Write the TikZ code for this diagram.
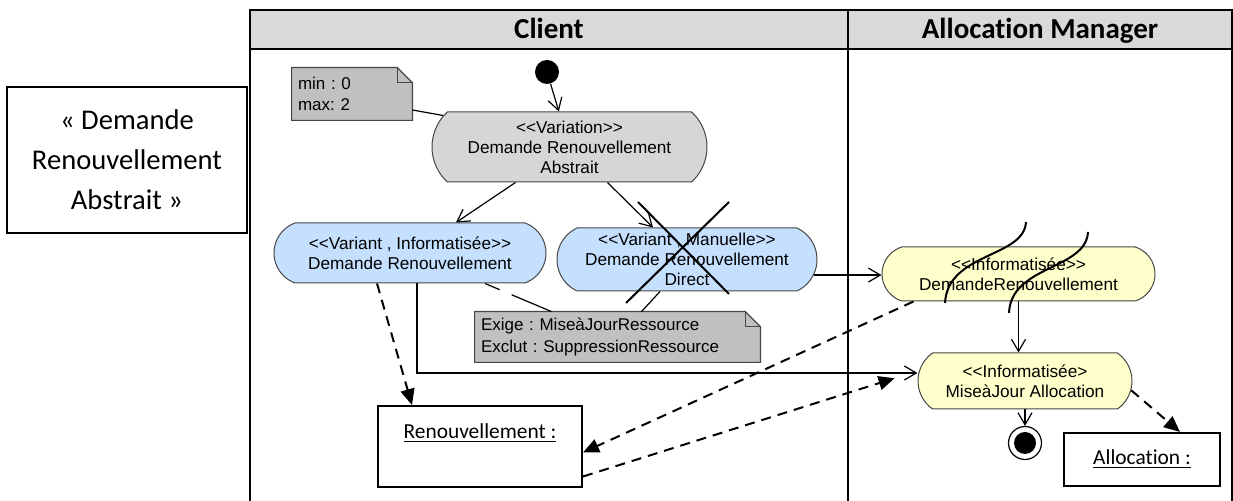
\documentclass[tikz,border=0pt]{standalone}
\usepackage{fontspec}
\newfontfamily\umlfont{Liberation Sans}
\newfontfamily\calfont{Carlito}[Ligatures={NoCommon}]
\usetikzlibrary{arrows.meta,positioning,shapes.misc,backgrounds}
\definecolor{lanegray}{RGB}{217,217,217}
\definecolor{vargray}{RGB}{214,214,214}
\definecolor{notegray}{RGB}{192,192,192}
\definecolor{variantblue}{RGB}{197,224,255}
\definecolor{infoyellow}{RGB}{255,255,204}
\definecolor{actborder}{RGB}{70,70,70}
\newcommand{\stOpen}{<\kern0pt<}
\newcommand{\stClose}{>\kern0pt>}
\frenchspacing

\begin{document}
\begin{tikzpicture}[x=0.5pt, y=-0.5pt,
    lanehead/.style={inner sep=0pt, anchor=base, font=\calfont\bfseries\fontsize{14.5}{17}\selectfont},
    action/.style={rounded rectangle, draw=actborder, line width=0.5pt, align=center, inner sep=0pt, font=\umlfont\fontsize{8.6}{10}\selectfont},
    umlnote/.style={align=left, inner xsep=3pt, inner ysep=0pt, font=\umlfont\fontsize{8.5}{10.5}\selectfont},
    objbox/.style={draw, line width=1pt, inner sep=0pt, font=\calfont\fontsize{10.7}{13}\selectfont},
    flow/.style={line width=0.6pt, -{Straight Barb[length=6pt,width=7pt]}},
    objflow/.style={line width=1pt, dash pattern=on 5pt off 3.5pt, -{Triangle[length=8pt,width=7pt]}},
    notelink/.style={line width=0.6pt},
    strike/.style={line width=1pt},
  ]
    \useasboundingbox (0,0) rectangle (1233,501);

    % swimlanes
    \fill[lanegray] (250,10) rectangle (1232,49);
    \draw[line width=1.2pt] (250,501) -- (250,10) -- (1232,10) -- (1232,501);
    \draw[line width=1.2pt] (250,49) -- (1232,49);
    \draw[line width=1.2pt] (848,10) -- (848,501);
    \node[lanehead] (hClient) at (549,39) {Client};
    \node[lanehead] (hAlloc) at (1040,39) {Allocation Manager};

    % title box
    \node[draw, line width=0.6pt, minimum width=120pt, minimum height=73pt, align=center,
          font=\calfont\fontsize{14.3}{20}\selectfont] (title) at (127,160) {« Demande\\Renouvellement\\Abstrait »};

    % actions
    \node[circle, fill=black, minimum size=12pt, inner sep=0pt] (start) at (547,72) {};
    \node[action, fill=vargray, rounded rectangle arc length=95, minimum width=137.5pt, minimum height=35pt] (var) at (569.5,147)
        {\stOpen Variation\stClose\\Demande Renouvellement\\Abstrait};
    \node[umlnote, minimum width=60pt, minimum height=26pt, text width=54pt] (lim) at (352,94) {min : 0\\max: 2};
    \node[action, fill=variantblue, rounded rectangle arc length=140, minimum width=136pt, minimum height=30pt] (vinf) at (410,253)
        {\stOpen Variant , Informatisée\stClose\\Demande Renouvellement};
    \node[action, fill=variantblue, rounded rectangle arc length=130, minimum width=130pt, minimum height=31.5pt] (vman) at (687,259.5)
        {\stOpen Variant , Manuelle\stClose\\Demande Renouvellement\\Direct};
    \node[umlnote, minimum width=142.5pt, minimum height=25pt, text width=136.5pt,
          font=\umlfont\fontsize{8.5}{11}\selectfont] (req) at (617.5,337) {Exige : MiseàJourRessource\\Exclut : SuppressionRessource};
    \node[action, fill=infoyellow, rounded rectangle arc length=145, minimum width=136.5pt, minimum height=27pt] (dren) at (1018.5,274)
        {\stOpen Informatisée\stClose\\DemandeRenouvellement};
    \node[action, fill=infoyellow, rounded rectangle arc length=110, minimum width=107pt, minimum height=28pt] (mja) at (1025,381)
        {\stOpen Informatisée>\\MiseàJour Allocation};
    \node[circle, draw, line width=0.6pt, fill=white, minimum size=16.5pt, inner sep=0pt] (fin) at (1025,443) {};
    \node[circle, fill=black, minimum size=11pt, inner sep=0pt] (finDot) at (fin.center) {};

    % objects
    \node[objbox, minimum width=102pt, text height=12.25pt, text depth=20.25pt, inner ysep=4pt] (ren) at (480,446.5) {\underline{Renouvellement :}};
    \node[objbox, minimum width=78pt, minimum height=26.5pt] (alloc) at (1142,459.5) {\underline{Allocation :}};

    % notes
    \begin{scope}[on background layer]
      \foreach \n in {lim,req} {
        \filldraw[fill=notegray, draw=actborder, line width=0.6pt] (\n.north west) -- ([xshift=-7.5pt]\n.north east)
          -- ([yshift=-7.5pt]\n.north east) -- (\n.south east) -- (\n.south west) -- cycle;
        \draw[actborder, line width=0.6pt] ([xshift=-7.5pt]\n.north east) |- ([yshift=-7.5pt]\n.north east);
      }
    \end{scope}
    \draw[notelink] ([yshift=-8pt]lim.east) -- (var.166);
    \draw[notelink, dash pattern=on 8pt off 6.5pt on 30pt off 0pt] ([xshift=37.5pt]vinf.south) -- ([xshift=-33pt]req.north);
    \draw[notelink] ([xshift=-13.5pt]vman.south) -- ([xshift=12pt]req.north);

    % control flows
    \draw[flow] (start) -- (var);
    \draw[flow] ([xshift=-27pt]var.south) -- ([xshift=23pt]vinf.north);
    \draw[flow] ([xshift=19pt]var.south) -- ([xshift=-17pt]vman.north);
    \draw[flow] (vman.-7) -- (vman.-7 -| dren.west);
    \draw[flow] (dren.south) -- (dren.south |- mja.north);
    \draw[flow] (mja.south) -- (fin.north);
    \draw[flow] ([xshift=3.5pt]vinf.south) |- ([yshift=4pt]mja.west);

    % object flows
    \draw[objflow] ([xshift=-16.5pt]vinf.south) -- ([xshift=-34pt]ren.north);
    \draw[objflow] ([xshift=-52.5pt]dren.south) -- ([yshift=-3pt]ren.east);
    \draw[objflow, shorten >=12pt] ([yshift=-15pt]ren.east) -- ([yshift=5pt]mja.west);
    \draw[objflow] (mja.-5) -- ([xshift=19pt]alloc.north);

    % excluded variant and cuts
    \draw[strike] (638,202) -- (729,294);
    \draw[strike] (729,202) -- (626,303);
    \draw[strike] (1026,222) .. controls (1024,258) and (948,252) .. (945,303);
    \draw[strike] (1088,232) .. controls (1086,270) and (1011,265) .. (1009,313);
\end{tikzpicture}
\end{document}
